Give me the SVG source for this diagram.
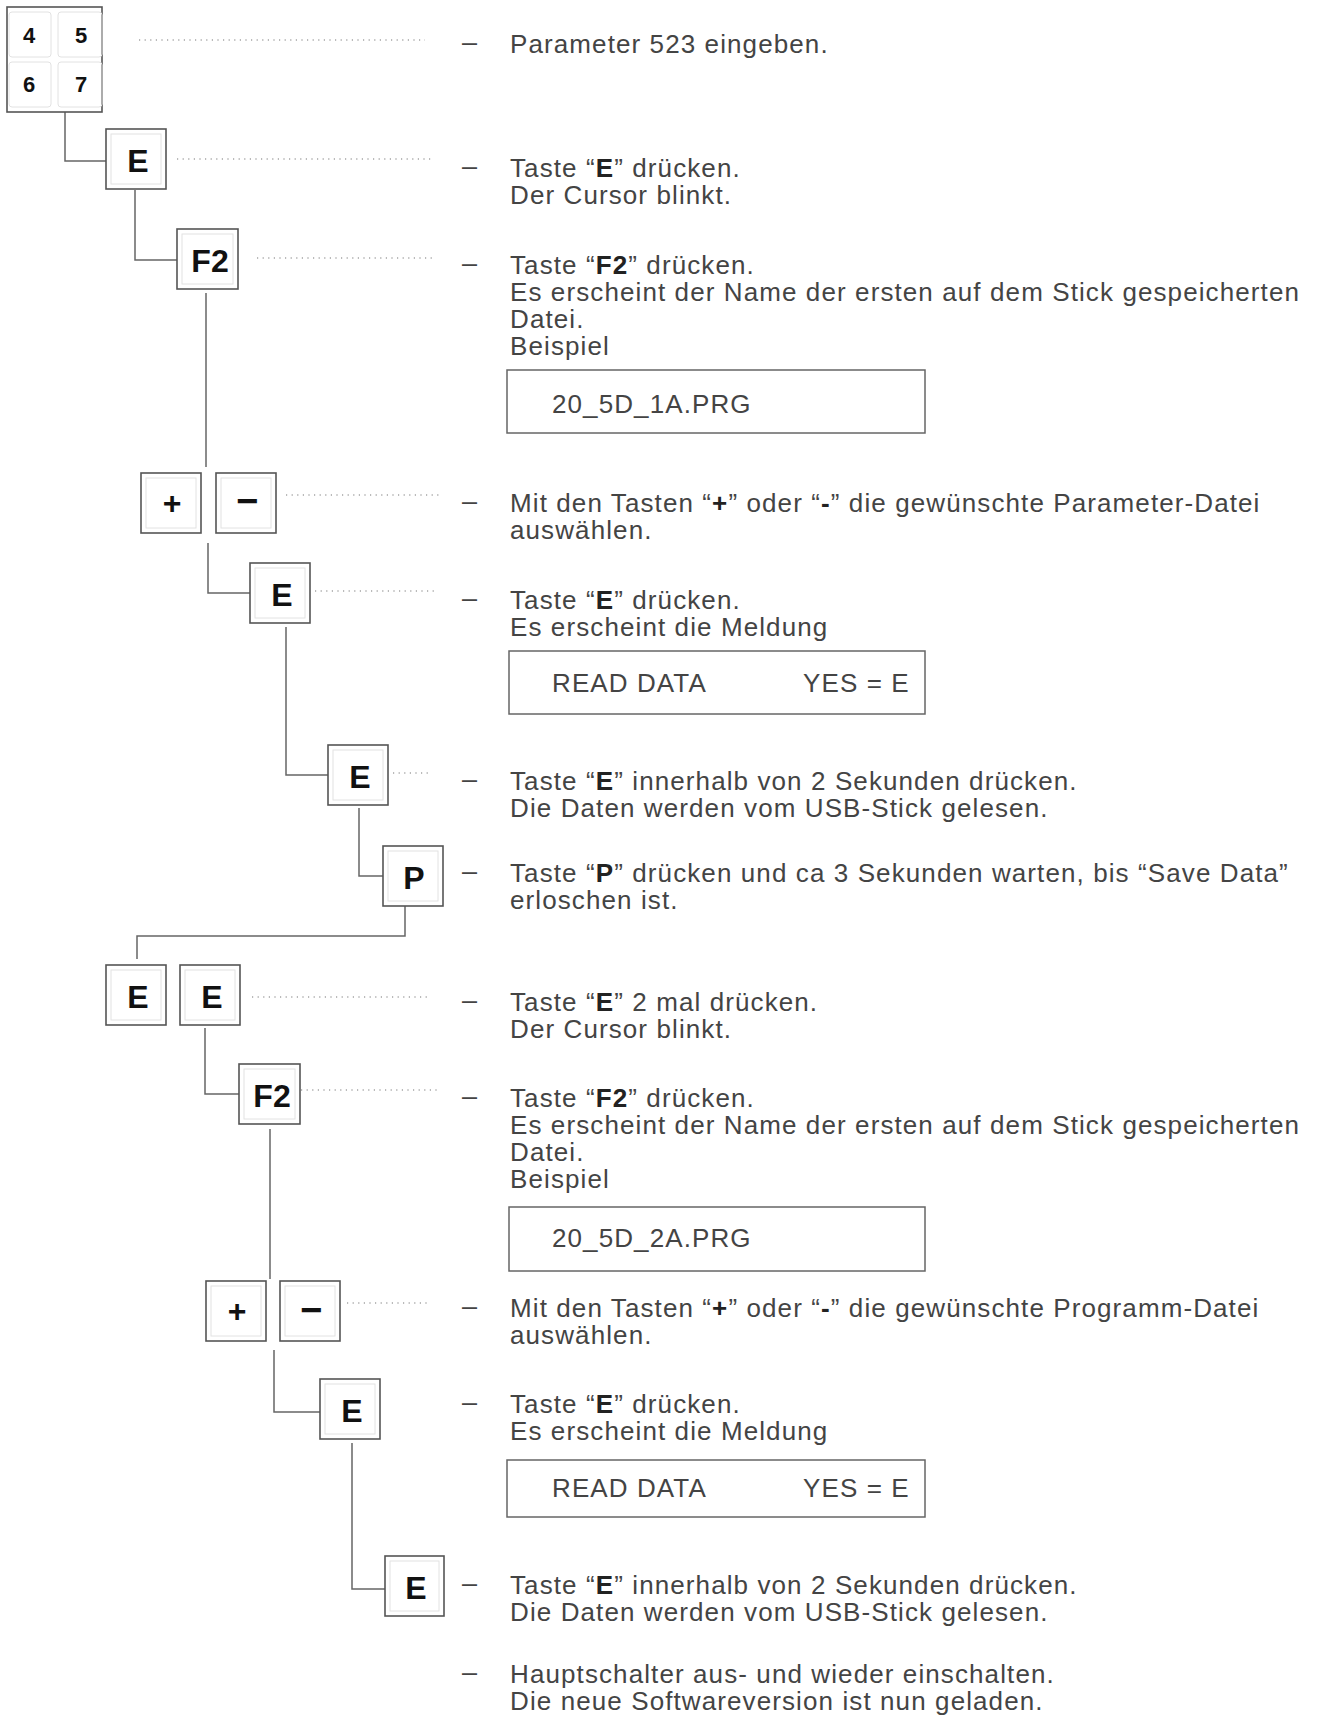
<svg xmlns="http://www.w3.org/2000/svg" width="1317" height="1722" viewBox="0 0 1317 1722">
<style>
.key{fill:#fff;stroke:#555;stroke-width:1.6}
.inner{fill:none;stroke:#e2e2e2;stroke-width:1}
.kl{font-family:"Liberation Sans",Arial,sans-serif;font-weight:bold;font-size:32px;fill:#111;text-anchor:middle}
.kd{font-family:"Liberation Sans",Arial,sans-serif;font-weight:bold;font-size:22px;fill:#111;text-anchor:middle}
.t{font-family:"Liberation Sans",Arial,sans-serif;font-size:26px;fill:#444;letter-spacing:1.1px}
.b{font-weight:bold;fill:#222}
.d{font-family:"Liberation Sans",Arial,sans-serif;font-size:27px;fill:#444}
.conn{fill:none;stroke:#666;stroke-width:1.5}
.dot{fill:none;stroke:#777;stroke-width:1.2;stroke-dasharray:1.2 4.4}
.box{fill:#fff;stroke:#666;stroke-width:1.5}
</style>

<g id="connectors">
<path class="conn" d="M65 112 V161 H106"/>
<path class="conn" d="M135 190 V260 H177"/>
<path class="conn" d="M206 293 V467"/>
<path class="conn" d="M208 543 V593 H250"/>
<path class="conn" d="M286 627 V775 H328"/>
<path class="conn" d="M359 808 V876 H383"/>
<path class="conn" d="M405 906 V936 H137 V959"/>
<path class="conn" d="M205 1028 V1094 H239"/>
<path class="conn" d="M270 1129 V1279"/>
<path class="conn" d="M274 1350 V1412 H320"/>
<path class="conn" d="M352 1443 V1589 H385"/>
</g>

<g id="leaders">
<line class="dot" x1="139" y1="40" x2="425" y2="40"/>
<line class="dot" x1="177" y1="159" x2="432" y2="159"/>
<line class="dot" x1="257" y1="258" x2="434" y2="258"/>
<line class="dot" x1="286" y1="495" x2="439" y2="495"/>
<line class="dot" x1="315" y1="591" x2="437" y2="591"/>
<line class="dot" x1="393" y1="773" x2="430" y2="773"/>
<line class="dot" x1="252" y1="997" x2="430" y2="997"/>
<line class="dot" x1="301" y1="1090" x2="438" y2="1090"/>
<line class="dot" x1="347" y1="1303" x2="427" y2="1303"/>
</g>

<g id="key-4567">
<rect class="key" x="7" y="7" width="95" height="105"/>
<rect class="inner" x="9" y="12" width="42" height="45" rx="3"/>
<rect class="inner" x="58" y="12" width="44" height="45" rx="3"/>
<rect class="inner" x="9" y="62" width="42" height="45" rx="3"/>
<rect class="inner" x="58" y="62" width="44" height="45" rx="3"/>
<text class="kd" x="29" y="43">4</text>
<text class="kd" x="81" y="43">5</text>
<text class="kd" x="29" y="92">6</text>
<text class="kd" x="81" y="92">7</text>
</g>

<g id="key-E1"><rect class="key" x="106" y="129" width="60" height="60"/><rect class="inner" x="111" y="134" width="50" height="50"/><text class="kl" x="138" y="172">E</text></g>
<g id="key-F2a"><rect class="key" x="177" y="229" width="61" height="60"/><rect class="inner" x="182" y="234" width="51" height="50"/><text class="kl" x="210" y="272">F2</text></g>
<g id="key-plus1"><rect class="key" x="141" y="473" width="60" height="60"/><rect class="inner" x="146" y="478" width="50" height="50"/><text class="kl" x="172" y="514">+</text></g>
<g id="key-minus1"><rect class="key" x="216" y="473" width="60" height="60"/><rect class="inner" x="221" y="478" width="50" height="50"/><text class="kl" x="247" y="514" style="font-size:38px">−</text></g>
<g id="key-E2"><rect class="key" x="250" y="563" width="60" height="60"/><rect class="inner" x="255" y="568" width="50" height="50"/><text class="kl" x="282" y="606">E</text></g>
<g id="key-E3"><rect class="key" x="328" y="745" width="60" height="60"/><rect class="inner" x="333" y="750" width="50" height="50"/><text class="kl" x="360" y="788">E</text></g>
<g id="key-P"><rect class="key" x="383" y="846" width="60" height="60"/><rect class="inner" x="388" y="851" width="50" height="50"/><text class="kl" x="414" y="889">P</text></g>
<g id="key-E4"><rect class="key" x="106" y="965" width="60" height="60"/><rect class="inner" x="111" y="970" width="50" height="50"/><text class="kl" x="138" y="1008">E</text></g>
<g id="key-E5"><rect class="key" x="180" y="965" width="60" height="60"/><rect class="inner" x="185" y="970" width="50" height="50"/><text class="kl" x="212" y="1008">E</text></g>
<g id="key-F2b"><rect class="key" x="239" y="1064" width="61" height="60"/><rect class="inner" x="244" y="1069" width="51" height="50"/><text class="kl" x="272" y="1107">F2</text></g>
<g id="key-plus2"><rect class="key" x="206" y="1281" width="60" height="60"/><rect class="inner" x="211" y="1286" width="50" height="50"/><text class="kl" x="237" y="1322">+</text></g>
<g id="key-minus2"><rect class="key" x="280" y="1281" width="60" height="60"/><rect class="inner" x="285" y="1286" width="50" height="50"/><text class="kl" x="311" y="1323" style="font-size:38px">−</text></g>
<g id="key-E6"><rect class="key" x="320" y="1379" width="60" height="60"/><rect class="inner" x="325" y="1384" width="50" height="50"/><text class="kl" x="352" y="1422">E</text></g>
<g id="key-E7"><rect class="key" x="385" y="1556" width="59" height="60"/><rect class="inner" x="390" y="1561" width="49" height="50"/><text class="kl" x="416" y="1599">E</text></g>

<g id="displays">
<rect class="box" x="507" y="370" width="418" height="63"/>
<text class="t" x="552" y="413">20_5D_1A.PRG</text>
<rect class="box" x="509" y="651" width="416" height="63"/>
<text class="t" x="552" y="692">READ DATA</text>
<text class="t" x="803" y="692">YES = E</text>
<rect class="box" x="509" y="1207" width="416" height="64"/>
<text class="t" x="552" y="1247">20_5D_2A.PRG</text>
<rect class="box" x="507" y="1460" width="418" height="57"/>
<text class="t" x="552" y="1497">READ DATA</text>
<text class="t" x="803" y="1497">YES = E</text>
</g>

<g id="dashes" class="d">
<text x="462" y="51">–</text>
<text x="462" y="175">–</text>
<text x="462" y="272">–</text>
<text x="462" y="510">–</text>
<text x="462" y="607">–</text>
<text x="462" y="788">–</text>
<text x="462" y="880">–</text>
<text x="462" y="1009">–</text>
<text x="462" y="1105">–</text>
<text x="462" y="1315">–</text>
<text x="462" y="1411">–</text>
<text x="462" y="1592">–</text>
<text x="462" y="1681">–</text>
</g>

<g id="texts">
<text class="t" x="510" y="53">Parameter 523 eingeben.</text>
<text class="t" x="510" y="177">Taste “<tspan class="b">E</tspan>” drücken.</text>
<text class="t" x="510" y="204">Der Cursor blinkt.</text>
<text class="t" x="510" y="274">Taste “<tspan class="b">F2</tspan>” drücken.</text>
<text class="t" x="510" y="301">Es erscheint der Name der ersten auf dem Stick gespeicherten</text>
<text class="t" x="510" y="328">Datei.</text>
<text class="t" x="510" y="355">Beispiel</text>
<text class="t" x="510" y="512">Mit den Tasten “<tspan class="b">+</tspan>” oder “<tspan class="b">-</tspan>” die gewünschte Parameter-Datei</text>
<text class="t" x="510" y="539">auswählen.</text>
<text class="t" x="510" y="609">Taste “<tspan class="b">E</tspan>” drücken.</text>
<text class="t" x="510" y="636">Es erscheint die Meldung</text>
<text class="t" x="510" y="790">Taste “<tspan class="b">E</tspan>” innerhalb von 2 Sekunden drücken.</text>
<text class="t" x="510" y="817">Die Daten werden vom USB-Stick gelesen.</text>
<text class="t" x="510" y="882">Taste “<tspan class="b">P</tspan>” drücken und ca 3 Sekunden warten, bis “Save Data”</text>
<text class="t" x="510" y="909">erloschen ist.</text>
<text class="t" x="510" y="1011">Taste “<tspan class="b">E</tspan>” 2 mal drücken.</text>
<text class="t" x="510" y="1038">Der Cursor blinkt.</text>
<text class="t" x="510" y="1107">Taste “<tspan class="b">F2</tspan>” drücken.</text>
<text class="t" x="510" y="1134">Es erscheint der Name der ersten auf dem Stick gespeicherten</text>
<text class="t" x="510" y="1161">Datei.</text>
<text class="t" x="510" y="1188">Beispiel</text>
<text class="t" x="510" y="1317">Mit den Tasten “<tspan class="b">+</tspan>” oder “<tspan class="b">-</tspan>” die gewünschte Programm-Datei</text>
<text class="t" x="510" y="1344">auswählen.</text>
<text class="t" x="510" y="1413">Taste “<tspan class="b">E</tspan>” drücken.</text>
<text class="t" x="510" y="1440">Es erscheint die Meldung</text>
<text class="t" x="510" y="1594">Taste “<tspan class="b">E</tspan>” innerhalb von 2 Sekunden drücken.</text>
<text class="t" x="510" y="1621">Die Daten werden vom USB-Stick gelesen.</text>
<text class="t" x="510" y="1683">Hauptschalter aus- und wieder einschalten.</text>
<text class="t" x="510" y="1710">Die neue Softwareversion ist nun geladen.</text>
</g>
</svg>
